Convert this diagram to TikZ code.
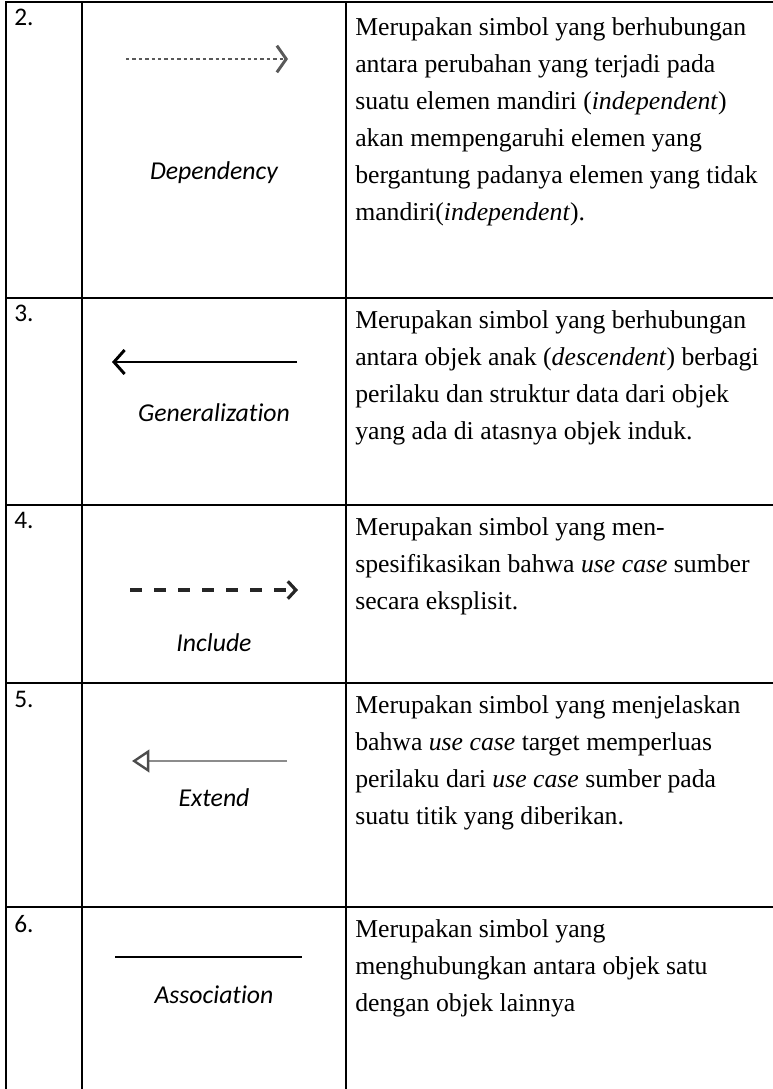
\documentclass[tikz,border=0pt]{standalone}
\usepackage{fontspec}
\setmainfont{Liberation Serif}
\newfontfamily\calibri[Ligatures=NoCommon]{Carlito}
\usetikzlibrary{arrows.meta}

\begin{document}
\begin{tikzpicture}[x=0.75pt,y=-0.75pt,
  nomor/.style={anchor=north west,inner sep=0pt,font=\calibri\fontsize{19}{22}\selectfont},
  simbol/.style={inner sep=0pt,font=\calibri\itshape\fontsize{19.3}{23}\selectfont},
  ket/.style={anchor=north west,inner sep=0pt,align=left,font=\fontsize{19.3}{27.75}\selectfont}]

\useasboundingbox (0,0) rectangle (773,1089);

% garis tabel
\draw[color=black, line width=1.9pt] (6,1089) -- (6,2) -- (773,2) (82,2) -- (82,1089) (346,2) -- (346,1089);
\foreach \y in {298,505,683,907}
  \draw[color=black, line width=1.9pt] (6,\y) -- (773,\y);

% nomor
\node[nomor](n2) at (14,9) {2.};
\node[nomor](n3) at (14,305) {3.};
\node[nomor](n4) at (14,512) {4.};
\node[nomor](n5) at (14,691) {5.};
\node[nomor](n6) at (14,915) {6.};

% simbol
\coordinate (dep-a) at (126,59);
\coordinate (dep-b) at (288,59);
\draw[color=black!65, line width=2.2pt, dash pattern=on 2.6pt off 2.2pt, -{Straight Barb[length=7pt,width=20pt,line width=2.2pt]}] (dep-a) -- (dep-b);
\node[simbol](dep) at (214,173) {Dependency};

\coordinate (gen-a) at (297,362);
\coordinate (gen-b) at (112,362);
\draw[color=black, line width=2.2pt, -{Straight Barb[length=8pt,width=18pt,line width=2.2pt]}] (gen-a) -- (gen-b);
\node[simbol](gen) at (214,413) {Generalization};

\coordinate (inc-a) at (130,590);
\coordinate (inc-b) at (298,590);
\draw[color=black!85, line width=2.6pt, dash pattern=on 9pt off 9pt, -{Straight Barb[length=6pt,width=13pt,line width=2.4pt]}] (inc-a) -- (inc-b);
\node[simbol](inc) at (214,643) {Include};

\coordinate (ext-a) at (287,761);
\coordinate (ext-b) at (132,761);
\draw[color=black!45, line width=1.4pt, -{Triangle[open,length=13pt,width=17pt,line width=1.8pt,color=black!70]}] (ext-a) -- (ext-b);
\node[simbol](ext) at (214,798) {Extend};

\coordinate (ass-a) at (115,957);
\coordinate (ass-b) at (302,957);
\draw[color=black, line width=2pt] (ass-a) -- (ass-b);
\node[simbol](ass) at (214,995) {Association};

% keterangan
\node[ket](k2) at (355,17) {Merupakan simbol yang berhubungan\\antara perubahan yang terjadi pada\\suatu elemen mandiri (\textit{independent})\\akan mempengaruhi elemen yang\\bergantung padanya elemen yang tidak\\mandiri(\textit{independent}).};
\node[ket](k3) at (355,310) {Merupakan simbol yang berhubungan\\antara objek anak (\textit{descendent}) berbagi\\perilaku dan struktur data dari objek\\yang ada di atasnya objek induk.};
\node[ket](k4) at (355,517) {Merupakan simbol yang men-\\spesifikasikan bahwa \textit{use case} sumber\\secara eksplisit.};
\node[ket](k5) at (355,695) {Merupakan simbol yang menjelaskan\\bahwa \textit{use case} target memperluas\\perilaku dari \textit{use case} sumber pada\\suatu titik yang diberikan.};
\node[ket](k6) at (355,919) {Merupakan simbol yang\\menghubungkan antara objek satu\\dengan objek lainnya};

\end{tikzpicture}
\end{document}
